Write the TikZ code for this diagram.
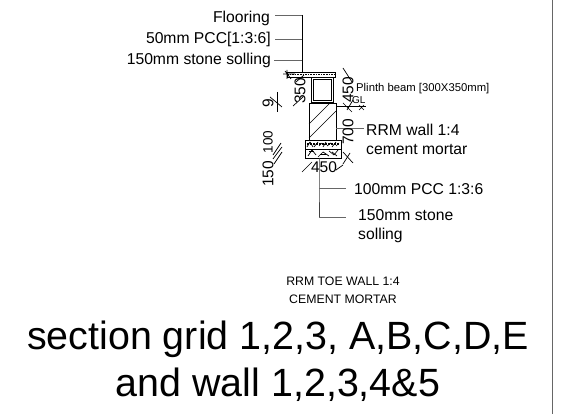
\documentclass[tikz,border=0pt]{standalone}
\usepackage{fontspec}
\setmainfont{Liberation Sans}
\tikzset{
 lead/.style={draw=black!60,line width=0.9pt},
 leadk/.style={draw=black,line width=0.9pt},
 wall/.style={draw=black,line width=0.8pt},
 tickm/.style={draw=black,line width=0.7pt},
 lbl/.style={inner sep=0pt,font=\fontsize{15.7}{19}\selectfont,align=left},
 small/.style={inner sep=0pt,font=\fontsize{11.3}{13}\selectfont},
 dim/.style={inner sep=0pt,font=\fontsize{15.5}{16}\selectfont},
}
\begin{document}
\begin{tikzpicture}[x=1pt,y=-1pt]
\useasboundingbox (0,0) rectangle (566,414);
\fill[white] (0,0) rectangle (566,414);
\draw[draw=black!60,line width=1pt] (552,0) -- (552,414);
% leaders top
\node[lbl,anchor=east] (t1) at (270,18) {Flooring};
\node[lbl,anchor=east] (t2) at (271,39) {50mm PCC[1:3:6]};
\node[lbl,anchor=east] (t3) at (271,60) {150mm stone solling};
\coordinate (j1) at (302,15);
\coordinate (j2) at (302,39);
\coordinate (j3) at (302,60);
\coordinate (jb) at (302,72);
\draw[lead] (275,15) -- (j1);
\draw[lead] (275,39) -- (j2);
\draw[lead] (274,60) -- (j3);
\draw[leadk] (j1) -- (jb);
% slab
\draw[wall] (287,72) rectangle (335,77);
\draw[line width=1.6pt,densely dotted] (287,74.5) -- (335,74.5);
\draw[tickm] (285,71) -- (291,79) (287,70) -- (287,79) (283,74) -- (295,74);
% beam
\draw[wall] (311,77) rectangle (333,102);
\draw[wall] (313,79) rectangle (331,100);
% wall
\draw[wall] (309,103) rectangle (336,140);
\draw[tickm] (309,124) -- (330,103);
\draw[tickm] (309,138) -- (336,111);
% foundation
\draw[wall] (305,140) rectangle (341,158);
\draw[wall] (305,149) -- (341,149);
\draw[line width=2pt,densely dotted] (307,144) -- (340,144);
\foreach \a/\b/\c/\d in {307/147/310/142,310/142/313/147,314/147/318/142,319/146/322/143,323/147/326/142,327/146/331/143,332/147/336/142,336/146/339/143,
 308/156/312/150,312/150/316/155,318/157/323/152,323/152/329/156,329/151/334/155,334/155/338/150,309/151/314/151,320/154/326/154,332/152/337/156}
  \draw[black,line width=0.7pt] (\a,\b) -- (\c,\d);
% lower leaders
\coordinate (j4) at (319,158);
\coordinate (j5) at (319,188);
\coordinate (j6) at (319,217);
\draw[draw=black!75,line width=0.9pt] (j4) -- (j5) -- (j6);
\draw[lead] (j5) -- (346,188);
\draw[lead] (j6) -- (346,217);
\node[lbl,anchor=west] (b1) at (354,189) {100mm PCC 1:3:6};
\node[lbl,anchor=north west] (b2) at (358,209) {150mm stone\\solling};
% RRM wall
\draw[lead] (336,128) -- (364,128);
\node[lbl,anchor=north west] (r1) at (366,124) {RRM wall 1:4\\cement mortar};
% plinth
\node[small,anchor=west] (p1) at (356,89) {Plinth beam [300X350mm]};
\node[inner sep=0pt,anchor=west,font=\fontsize{10}{11}\selectfont] (gl) at (352,100) {GL};
\draw[tickm] (336,106) -- (366,106);
\draw[tickm] (343,103) -- (352,112);
\draw[tickm] (347,110) -- (353,100);
\draw[tickm] (359,105) -- (364,110) (364,105) -- (359,110);
% dims
\node[dim,rotate=90] (d1) at (300,91) {350};
\draw[tickm] (293,106) -- (303,97);
\draw[tickm] (296,82) -- (304,75);
\node[dim,rotate=90] (d2) at (348,90) {450};
\draw[tickm] (343,68) -- (352,82);
\node[dim,rotate=90] (d3) at (268,103) {9};
\draw[tickm] (277,92) -- (277,112);
\draw[tickm] (270,97) -- (282,107);
\node[dim,rotate=90,font=\fontsize{13.5}{14}\selectfont] (d5) at (268,142) {100};
\node[dim,rotate=90] (d6) at (268,174) {150};
\node[dim,rotate=90] (d4) at (348,132) {700};
\draw[tickm] (343,152) -- (353,163);
\draw[tickm] (343,164) -- (350,153);
\draw[tickm] (273,155) -- (281,143);
\draw[tickm] (273,159) -- (282,147);
\draw[tickm] (274,164) -- (282,152);
\node[dim] (d7) at (324,167) {450};
\draw[tickm] (302,172) -- (312,162);
\draw[tickm] (336,170) -- (343,165);
% titles
\node[inner sep=0pt,font=\fontsize{12.3}{18}\selectfont,align=center] (c1) at (343,290) {RRM TOE WALL 1:4\\CEMENT MORTAR};
\node[inner sep=0pt,font=\fontsize{39.4}{45}\selectfont] (c2) at (278,339) {section grid 1,2,3, A,B,C,D,E};
\node[inner sep=0pt,font=\fontsize{39.4}{45}\selectfont] (c3) at (278,385) {and wall 1,2,3,4\&5};
\end{tikzpicture}
\end{document}
